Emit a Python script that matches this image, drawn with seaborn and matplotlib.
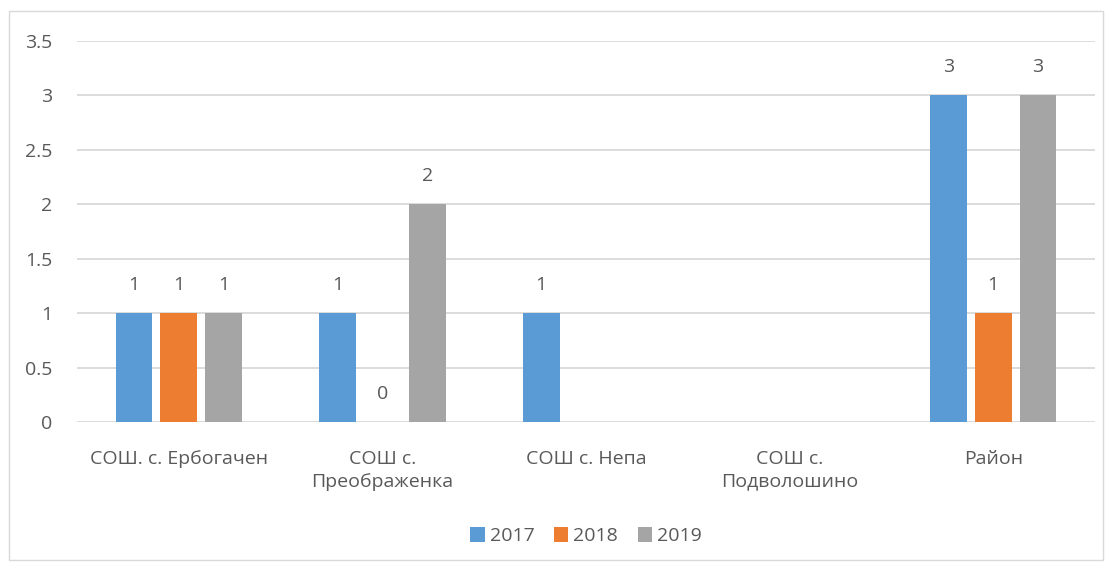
import numpy as np
import pandas as pd
import matplotlib
matplotlib.use("Agg")
import matplotlib.pyplot as plt
import seaborn as sns
from matplotlib.patches import Rectangle

# данные
categories = ["СОШ. с. Ербогачен", "СОШ с.\nПреображенка", "СОШ с. Непа",
              "СОШ с.\nПодволошино", "Район"]
years = ["2017", "2018", "2019"]
v2017 = [1, 1, 1, np.nan, 3]
v2018 = [1, 0, np.nan, np.nan, 1]
v2019 = [1, 2, np.nan, np.nan, 3]
colors = ["#5b9bd5", "#ed7d31", "#a5a5a5"]

df = pd.DataFrame({
    "cat": categories * 3,
    "year": [y for y in years for _ in categories],
    "val": v2017 + v2018 + v2019,
})

sns.set_theme(style="white")
plt.rcParams["font.family"] = ["Open Sans", "DejaVu Sans"]
txt = "#595959"
grid = "#d9d9d9"
fs = 14

fig = plt.figure(figsize=(11.11, 5.68), dpi=100)
ax = fig.add_axes([0.0693, 0.257, 0.9163, 0.671])

sns.barplot(data=df, x="cat", y="val", hue="year", order=categories,
            hue_order=years, palette=colors, width=0.66, gap=0.18,
            dodge=True, ax=ax, saturation=1, legend=True, linewidth=0)

for cont in ax.containers:
    labels = ["" if np.isnan(b.get_height()) else f"{b.get_height():g}"
              for b in cont]
    ax.bar_label(cont, labels=labels, padding=14, fontsize=fs, color=txt)

ax.set_ylim(0, 3.5)
ax.set_yticks(np.arange(0, 3.51, 0.5))
ax.set_yticklabels(["0", "0.5", "1", "1.5", "2", "2.5", "3", "3.5"])
ax.set_xlim(-0.5, 4.5)
ax.set_xlabel("")
ax.set_ylabel("")
ax.yaxis.grid(True, color=grid, linewidth=1.3)
ax.set_axisbelow(True)
for s in ax.spines.values():
    s.set_visible(False)
ax.tick_params(axis="y", length=0, pad=18, labelsize=fs, labelcolor=txt)
ax.tick_params(axis="x", length=0, pad=20, labelsize=fs, labelcolor=txt)
for lbl in ax.get_xticklabels():
    lbl.set_linespacing(1.35)

ax.legend(loc="center", bbox_to_anchor=(0.5, -0.30), ncol=3, frameon=False,
          fontsize=fs, labelcolor=txt, handlelength=0.75, handleheight=0.75,
          handletextpad=0.25, columnspacing=1.0)

fig.patches.append(Rectangle((0.008, 0.014), 0.985, 0.966, transform=fig.transFigure,
                             fill=False, edgecolor=grid, linewidth=1))

fig.savefig("out.png", dpi=100)
